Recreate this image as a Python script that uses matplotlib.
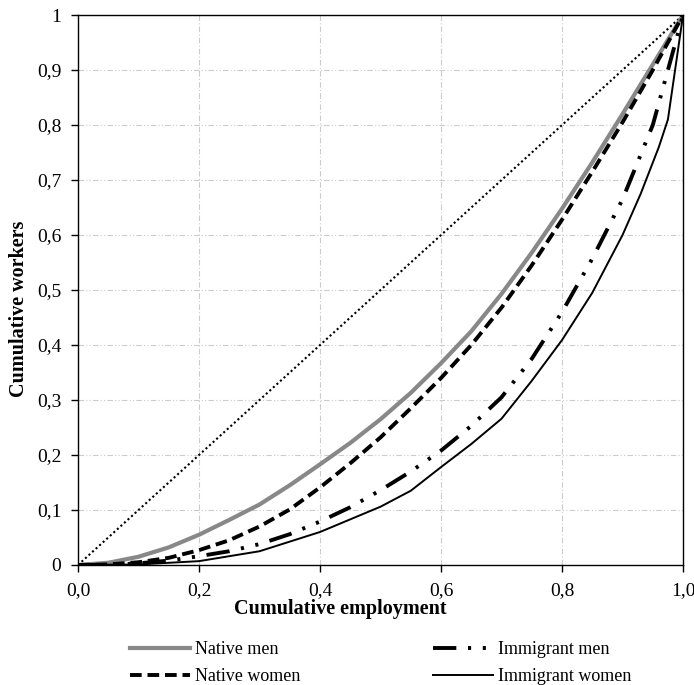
import numpy as np
import matplotlib.pyplot as plt
from matplotlib.ticker import FixedLocator

plt.rcParams['font.family'] = ['Liberation Serif', 'DejaVu Serif']

# curve di concentrazione (quota cumulata occupazione vs lavoratori)
x_share = [0, 0.05, 0.1, 0.15, 0.2, 0.25, 0.3, 0.35, 0.4, 0.45, 0.5,
           0.55, 0.6, 0.65, 0.7, 0.75, 0.8, 0.85, 0.9, 0.95, 1.0]
native_men = [0, 0.004, 0.015, 0.032, 0.055, 0.082, 0.11, 0.145, 0.183, 0.222, 0.265,
              0.313, 0.367, 0.425, 0.493, 0.568, 0.648, 0.732, 0.82, 0.91, 1.0]
native_women = [0, 0.001, 0.005, 0.013, 0.027, 0.045, 0.07, 0.101, 0.141, 0.185, 0.232,
                0.285, 0.34, 0.4, 0.468, 0.545, 0.628, 0.715, 0.805, 0.9, 1.0]
immig_men = [0, 0.0, 0.003, 0.008, 0.016, 0.025, 0.038, 0.056, 0.079, 0.105, 0.136,
             0.17, 0.208, 0.253, 0.305, 0.375, 0.46, 0.557, 0.665, 0.8, 1.0]
x_immig_women = [0, 0.1, 0.2, 0.3, 0.4, 0.5, 0.55, 0.6, 0.65, 0.7, 0.75, 0.8,
                 0.85, 0.9, 0.93, 0.96, 0.975, 1.0]
immig_women = [0, 0.001, 0.007, 0.025, 0.06, 0.106, 0.135, 0.178, 0.22, 0.266, 0.335, 0.409,
               0.495, 0.6, 0.675, 0.76, 0.81, 1.0]

xticks = [0, 0.2, 0.4, 0.6, 0.8, 1.0]
xtick_labels = ['0,0', '0,2', '0,4', '0,6', '0,8', '1,0']
yticks = [0, 0.1, 0.2, 0.3, 0.4, 0.5, 0.6, 0.7, 0.8, 0.9, 1.0]
ytick_labels = ['0', '0,1', '0,2', '0,3', '0,4', '0,5', '0,6', '0,7', '0,8', '0,9', '1']

fig = plt.figure(figsize=(6.94, 6.85), dpi=100)
ax = fig.add_axes([0.1124, 0.1752, 0.8718, 0.8028])

# griglia
for v in xticks[1:-1]:
    ax.axvline(v, color='#cccccc', lw=0.8, ls=(0, (5, 2, 1, 2)), zorder=0)
for v in yticks[1:-1]:
    ax.axhline(v, color='#cccccc', lw=0.8, ls=(0, (5, 2, 1, 2, 1, 2)), zorder=0)

ax.plot([0, 1], [0, 1], color='black', lw=1.5, ls=(0, (1, 1.3)))
l1, = ax.plot(x_share, native_men, color='#888888', lw=3, label='Native men')
l2, = ax.plot(x_share, native_women, color='black', lw=2.8, ls=(0, (3, 1.5)), label='Native women')
l3, = ax.plot(x_share, immig_men, color='black', lw=2.8, ls=(0, (6, 3, 0.8, 3, 0.8, 3)), label='Immigrant men')
l4, = ax.plot(x_immig_women, immig_women, color='black', lw=1.4, label='Immigrant women')

ax.set_xlim(0, 1)
ax.set_ylim(0, 1)
ax.xaxis.set_major_locator(FixedLocator(xticks))
ax.yaxis.set_major_locator(FixedLocator(yticks))
ax.set_xticklabels(xtick_labels)
ax.set_yticklabels(ytick_labels)
ax.tick_params(direction='out', length=5, width=1, labelsize=14, pad=7)
for s in ax.spines.values():
    s.set_linewidth(1)

ax.set_xlabel('Cumulative employment', fontsize=14.5, fontweight='bold', labelpad=0)
ax.set_ylabel('Cumulative workers', fontsize=14.5, fontweight='bold', labelpad=6)
ax.xaxis.label.set_x(0.433)
ax.yaxis.label.set_y(0.466)

# legenda su due colonne sotto l'asse x
leg_kw = dict(loc='upper left', frameon=False, fontsize=13, handlelength=3.3,
              handletextpad=0.3, labelspacing=0.56, borderpad=0, borderaxespad=0)
fig.legend(handles=[l1, l2], bbox_to_anchor=(130 / 694, 1 - 641 / 685), **leg_kw)
fig.legend(handles=[l3, l4], bbox_to_anchor=(433 / 694, 1 - 641 / 685), **leg_kw)

fig.savefig('out.png', dpi=100)
